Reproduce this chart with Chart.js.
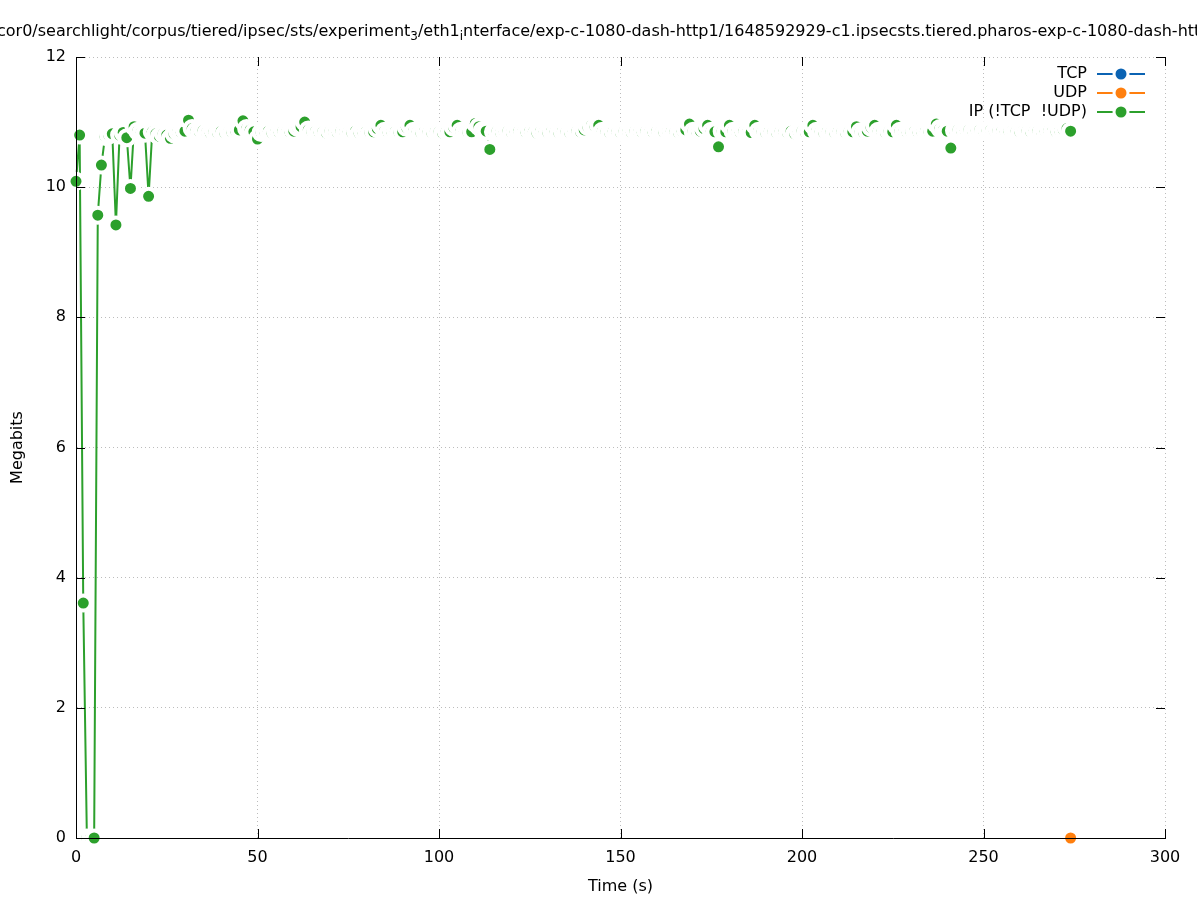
<!DOCTYPE html>
<html lang="en">
<head>
    <meta charset="UTF-8">
    <title>Megabits over time</title>
    <style>
        body {
            margin: 0;
            background: #fff;
        }
        #chart {
            display: block;
        }
    </style>
    <script src="https://cdn.jsdelivr.net/npm/chart.js"></script>
</head>
<body>
    <canvas id="chart" width="1197" height="900"></canvas>
    <script>
        // TCP has no samples in this capture, it only shows up in the key
        const tcpTime = [];
        const tcpMbits = [];

        const udpTime = [274];
        const udpMbits = [0];

        const ipTime = [
            0, 1, 2, 3, 4, 5, 6, 7, 8, 9,
            10, 11, 12, 13, 14, 15, 16, 17, 18, 19,
            20, 21, 22, 23, 24, 25, 26, 27, 28, 29,
            30, 31, 32, 33, 34, 35, 36, 37, 38, 39,
            40, 41, 42, 43, 44, 45, 46, 47, 48, 49,
            50, 51, 52, 53, 54, 55, 56, 57, 58, 59,
            60, 61, 62, 63, 64, 65, 66, 67, 68, 69,
            70, 71, 72, 73, 74, 75, 76, 77, 78, 79,
            80, 81, 82, 83, 84, 85, 86, 87, 88, 89,
            90, 91, 92, 93, 94, 95, 96, 97, 98, 99,
            100, 101, 102, 103, 104, 105, 106, 107, 108, 109,
            110, 111, 112, 113, 114, 115, 116, 117, 118, 119,
            120, 121, 122, 123, 124, 125, 126, 127, 128, 129,
            130, 131, 132, 133, 134, 135, 136, 137, 138, 139,
            140, 141, 142, 143, 144, 145, 146, 147, 148, 149,
            150, 151, 152, 153, 154, 155, 156, 157, 158, 159,
            160, 161, 162, 163, 164, 165, 166, 167, 168, 169,
            170, 171, 172, 173, 174, 175, 176, 177, 178, 179,
            180, 181, 182, 183, 184, 185, 186, 187, 188, 189,
            190, 191, 192, 193, 194, 195, 196, 197, 198, 199,
            200, 201, 202, 203, 204, 205, 206, 207, 208, 209,
            210, 211, 212, 213, 214, 215, 216, 217, 218, 219,
            220, 221, 222, 223, 224, 225, 226, 227, 228, 229,
            230, 231, 232, 233, 234, 235, 236, 237, 238, 239,
            240, 241, 242, 243, 244, 245, 246, 247, 248, 249,
            250, 251, 252, 253, 254, 255, 256, 257, 258, 259,
            260, 261, 262, 263, 264, 265, 266, 267, 268, 269,
            270, 271, 272, 273, 274
        ];
        const ipMbits = [
            10.09, 10.80, 3.61, 0.00, 0.00, 0.00, 9.57, 10.34, 10.78, 10.80,
            10.82, 9.42, 10.80, 10.84, 10.76, 9.98, 10.93, 10.86, 10.84, 10.83,
            9.86, 10.85, 10.82, 10.78, 10.82, 10.80, 10.75, 10.82, 10.85, 10.84,
            10.86, 11.03, 10.90, 10.86, 10.85, 10.87, 10.84, 10.83, 10.85, 10.84,
            10.86, 10.83, 10.85, 10.84, 10.86, 10.88, 11.02, 10.90, 10.88, 10.85,
            10.74, 10.84, 10.85, 10.86, 10.83, 10.85, 10.84, 10.86, 10.85, 10.84,
            10.86, 10.92, 10.93, 11.00, 10.88, 10.85, 10.86, 10.84, 10.85, 10.83,
            10.86, 10.85, 10.84, 10.86, 10.85, 10.85, 10.84, 10.86, 10.83, 10.85,
            10.86, 10.84, 10.85, 10.90, 10.95, 10.86, 10.84, 10.85, 10.86, 10.84,
            10.85, 10.92, 10.95, 10.86, 10.85, 10.84, 10.86, 10.85, 10.84, 10.86,
            10.85, 10.83, 10.86, 10.85, 10.92, 10.95, 10.86, 10.85, 10.84, 10.85,
            10.98, 10.93, 10.87, 10.86, 10.58, 10.85, 10.86, 10.84, 10.85, 10.86,
            10.84, 10.85, 10.86, 10.85, 10.84, 10.86, 10.85, 10.83, 10.86, 10.85,
            10.84, 10.86, 10.85, 10.84, 10.86, 10.85, 10.84, 10.86, 10.86, 10.85,
            10.88, 10.93, 10.95, 10.93, 10.95, 10.86, 10.85, 10.84, 10.86, 10.85,
            10.84, 10.86, 10.85, 10.84, 10.86, 10.85, 10.84, 10.86, 10.85, 10.84,
            10.86, 10.85, 10.84, 10.86, 10.86, 10.85, 10.84, 10.86, 10.88, 10.97,
            10.86, 10.85, 10.86, 10.90, 10.95, 10.86, 10.85, 10.62, 10.86, 10.85,
            10.95, 10.86, 10.85, 10.84, 10.86, 10.85, 10.84, 10.95, 10.86, 10.85,
            10.84, 10.86, 10.85, 10.84, 10.86, 10.85, 10.84, 10.86, 10.82, 10.85,
            10.86, 10.84, 10.85, 10.95, 10.86, 10.85, 10.84, 10.86, 10.85, 10.84,
            10.86, 10.85, 10.84, 10.86, 10.85, 10.93, 10.85, 10.84, 10.86, 10.92,
            10.95, 10.86, 10.85, 10.84, 10.86, 10.85, 10.95, 10.86, 10.85, 10.84,
            10.85, 10.86, 10.84, 10.85, 10.86, 10.85, 10.86, 10.97, 10.90, 10.88,
            10.86, 10.60, 10.87, 10.88, 10.86, 10.87, 10.88, 10.86, 10.87, 10.88,
            10.86, 10.87, 10.88, 10.86, 10.87, 10.86, 10.85, 10.86, 10.87, 10.86,
            10.85, 10.87, 10.86, 10.85, 10.87, 10.86, 10.85, 10.86, 10.87, 10.86,
            10.85, 10.87, 10.88, 10.90, 10.86
        ];

        const xTicks = [0, 50, 100, 150, 200, 250, 300];
        const yTicks = [0, 2, 4, 6, 8, 10, 12];

        // title is a path that runs off both sides; the _3 and _i are subscripts
        const titleParts = [
            ['cor0/searchlight/corpus/tiered/ipsec/sts/experiment', false],
            ['3', true],
            ['/eth1', false],
            ['i', true],
            ['nterface/exp-c-1080-dash-http1/1648592929-c1.ipsecsts.tiered.pharos-exp-c-1080-dash-http1', false]
        ];

        const colors = {
            tcp: '#0b63b3',
            udp: '#ff7f0e',
            ip: '#2ca02c'
        };

        const FONT = '"DejaVu Sans", sans-serif';
        Chart.defaults.font.family = FONT;
        Chart.defaults.font.size = 16;
        Chart.defaults.color = '#000';

        // dot of 5.5px with a white blank ring round it, like gnuplot's pointintervalbox
        const DOT = 5.5;
        const BLANK = 9.5;

        function toPoints(xs, ys) {
            return xs.map((x, i) => ({ x: x, y: ys[i] }));
        }

        function series(label, xs, ys, color) {
            return {
                label: label,
                data: toPoints(xs, ys),
                borderColor: color,
                backgroundColor: color,
                borderWidth: 2,
                tension: 0,
                pointRadius: (DOT + BLANK) / 2,
                pointHoverRadius: (DOT + BLANK) / 2,
                pointBorderWidth: BLANK - DOT,
                pointBorderColor: '#fff',
                pointBackgroundColor: color,
                clip: false
            };
        }

        // gnuplot style tics: pointing inwards, mirrored on top and right
        const mirrorTicks = {
            id: 'mirrorTicks',
            afterDraw(chart) {
                const { ctx, chartArea: a } = chart;
                const x = chart.scales.x, y = chart.scales.y;
                const len = 9;
                ctx.save();
                ctx.strokeStyle = '#000';
                ctx.lineWidth = 1;
                ctx.beginPath();
                x.ticks.forEach(t => {
                    const px = Math.round(x.getPixelForValue(t.value)) + 0.5;
                    ctx.moveTo(px, a.bottom);
                    ctx.lineTo(px, a.bottom - len);
                    ctx.moveTo(px, a.top);
                    ctx.lineTo(px, a.top + len);
                });
                y.ticks.forEach(t => {
                    const py = Math.round(y.getPixelForValue(t.value)) + 0.5;
                    ctx.moveTo(a.left, py);
                    ctx.lineTo(a.left + len, py);
                    ctx.moveTo(a.right, py);
                    ctx.lineTo(a.right - len, py);
                });
                ctx.stroke();
                ctx.restore();
            }
        };

        // key in the top right corner: text right aligned, then line with a dot
        const gnuplotKey = {
            id: 'gnuplotKey',
            afterDraw(chart) {
                const ctx = chart.ctx;
                const textRight = 1087;
                const lineFrom = 1097, lineTo = 1145;
                const mid = (lineFrom + lineTo) / 2;
                ctx.save();
                ctx.font = '16px ' + FONT;
                ctx.textAlign = 'right';
                ctx.textBaseline = 'middle';
                chart.data.datasets.forEach((ds, i) => {
                    const yy = 74 + i * 19;
                    ctx.fillStyle = '#000';
                    ctx.fillText(ds.label, textRight, yy);
                    ctx.strokeStyle = ds.borderColor;
                    ctx.lineWidth = 2;
                    ctx.beginPath();
                    ctx.moveTo(lineFrom, yy);
                    ctx.lineTo(lineTo, yy);
                    ctx.stroke();
                    ctx.beginPath();
                    ctx.arc(mid, yy, 8.5, 0, Math.PI * 2);
                    ctx.fillStyle = '#fff';
                    ctx.fill();
                    ctx.beginPath();
                    ctx.arc(mid, yy, DOT, 0, Math.PI * 2);
                    ctx.fillStyle = ds.pointBackgroundColor;
                    ctx.fill();
                });
                ctx.restore();
            }
        };

        const pathTitle = {
            id: 'pathTitle',
            afterDraw(chart) {
                const ctx = chart.ctx;
                let x = -3;
                const base = 36;
                ctx.save();
                ctx.fillStyle = '#000';
                ctx.textBaseline = 'alphabetic';
                ctx.textAlign = 'left';
                titleParts.forEach(([text, sub]) => {
                    ctx.font = (sub ? '12px ' : '16px ') + FONT;
                    ctx.fillText(text, x, sub ? base + 4 : base);
                    x += ctx.measureText(text).width;
                });
                ctx.restore();
            }
        };

        const gridOpts = {
            color: 'rgba(160, 160, 160, 0.7)',
            lineWidth: 1,
            drawTicks: false
        };
        const borderOpts = {
            display: true,
            color: '#000',
            width: 1,
            dash: [1, 3],
            z: 1
        };

        new Chart(document.getElementById('chart').getContext('2d'), {
            type: 'line',
            data: {
                datasets: [
                    series('TCP', tcpTime, tcpMbits, colors.tcp),
                    series('UDP', udpTime, udpMbits, colors.udp),
                    series('IP (!TCP  !UDP)', ipTime, ipMbits, colors.ip)
                ]
            },
            options: {
                responsive: false,
                animation: false,
                devicePixelRatio: 1,
                layout: { padding: { top: 57, right: 32, left: 0, bottom: 0 } },
                plugins: {
                    legend: { display: false },
                    title: { display: false },
                    tooltip: { enabled: false }
                },
                scales: {
                    x: {
                        type: 'linear',
                        min: 0,
                        max: 300,
                        afterBuildTicks: s => { s.ticks = xTicks.map(v => ({ value: v })); },
                        ticks: { padding: 10, maxRotation: 0 },
                        grid: gridOpts,
                        border: borderOpts,
                        title: { display: true, text: 'Time (s)', padding: { top: 4, bottom: 4 } },
                        afterFit: s => { s.height = 62; }
                    },
                    y: {
                        type: 'linear',
                        min: 0,
                        max: 12,
                        afterBuildTicks: s => { s.ticks = yTicks.map(v => ({ value: v })); },
                        ticks: { padding: 10 },
                        grid: gridOpts,
                        border: borderOpts,
                        title: { display: true, text: 'Megabits', padding: { top: 8, bottom: 8 } },
                        afterFit: s => { s.width = 76; }
                    }
                }
            },
            plugins: [mirrorTicks, gnuplotKey, pathTitle]
        });
    </script>
</body>
</html>
